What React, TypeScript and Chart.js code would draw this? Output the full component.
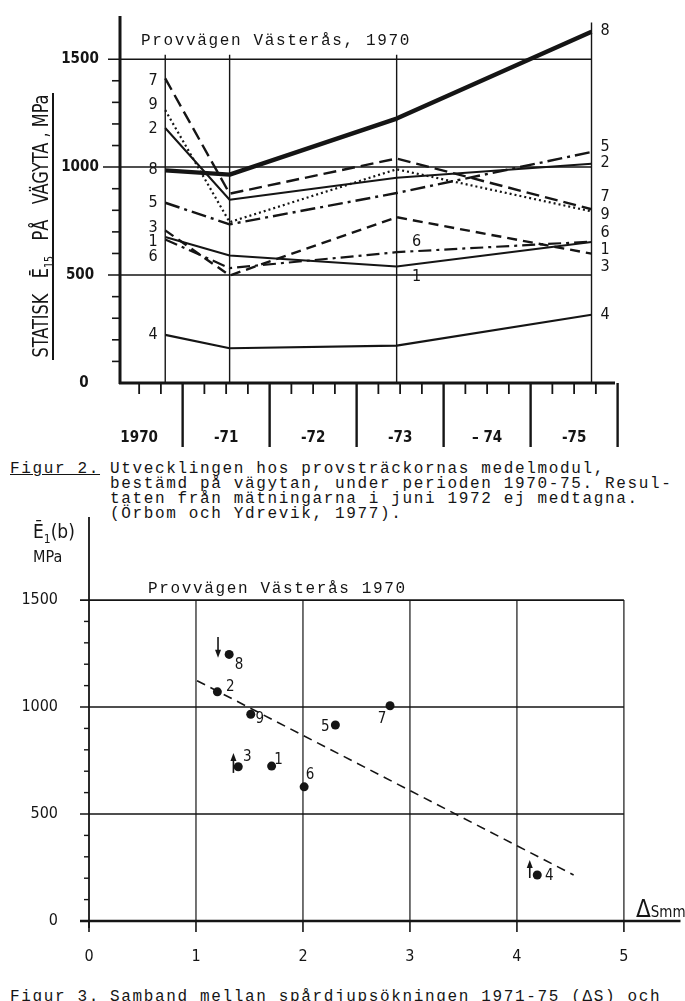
import React, { useEffect, useRef } from "react";
import { Chart, registerables } from "chart.js";
Chart.register(...registerables);

const COND = '"DejaVu Sans Condensed", "Liberation Sans Narrow", "DejaVu Sans", sans-serif';
const MONO = '"Liberation Mono", "DejaVu Sans Mono", "Courier New", monospace';
const INK = "#151515";

// ---------- Figur 2 data ----------
const years = [1970.8, 1971.54, 1973.46, 1975.7];
const s1 = [676, 591, 540, 653];
const s2 = [1181, 849, 951, 1016];
const s3 = [707, 498, 768, 599];
const s4 = [223, 161, 173, 316];
const s5 = [835, 735, 880, 1070];
const s6 = [665, 532, 606, 655];
const s7 = [1411, 877, 1040, 805];
const s8 = [985, 965, 1225, 1627];
const s9 = [1264, 745, 990, 795];

const yearLabels = ["1970", "-71", "-72", "-73", "\u2013 74", "-75"];
const yearStarts = [1970, 1971, 1972, 1973, 1974, 1975];
const y1TickValues = [0, 500, 1000, 1500];
const y1TickLabels = ["0", "500", "1000", "1500"];

const leftLabelText = ["7", "9", "2", "8", "5", "3", "1", "6", "4"];
const leftLabelValue = [1398, 1287, 1175, 989, 836, 720, 655, 585, 223];
const rightLabelText = ["8", "5", "2", "7", "9", "6", "1", "3", "4"];
const rightLabelValue = [1630, 1096, 1022, 864, 780, 697, 618, 539, 316];
const midLabelText = ["6", "1"];
const midLabelValue = [655, 492];

// ---------- Figur 3 data ----------
const sections = ["1", "2", "3", "4", "5", "6", "7", "8", "9"];
const rutDepth = [1.707, 1.2, 1.395, 4.19, 2.303, 2.011, 2.814, 1.31, 1.512];
const modulus = [724, 1071, 721, 215, 916, 627, 1006, 1246, 966];
const labelDx = [7, 13, 9, 12, -10, 6, -8, 10, 9];
const labelDy = [-6, -5, -10, 1, 2, -12, 13, 11, 5];
const trendX = [1.01, 4.53];
const trendY = [1123, 215];
const arrowX = [1.206, 1.35, 4.12];
const arrowFrom = [1327, 692, 201];
const arrowTo = [1230, 785, 285];
const x2TickValues = [0, 1, 2, 3, 4, 5];
const x2TickLabels = ["0", "1", "2", "3", "4", "5"];
const y2TickValues = [0, 500, 1000, 1500];
const y2TickLabels = ["0", "500", "1000", "1500"];

function line(ctx: CanvasRenderingContext2D, x1: number, y1: number, x2: number, y2: number, w: number) {
  ctx.beginPath();
  ctx.lineWidth = w;
  ctx.moveTo(x1, y1);
  ctx.lineTo(x2, y2);
  ctx.stroke();
}

const fig2Plugin = {
  id: "fig2",
  beforeDatasetsDraw(chart: any) {
    const ctx: CanvasRenderingContext2D = chart.ctx;
    const xs = chart.scales.x;
    const ys = chart.scales.y;
    const { left, right, top, bottom } = chart.chartArea;
    ctx.save();
    ctx.strokeStyle = INK;
    ctx.fillStyle = INK;
    ctx.lineCap = "butt";
    const xEnd = xs.getPixelForValue(years[3]);
    [1500, 1000, 500].forEach((v) => {
      line(ctx, left - (v === 1000 ? 17 : 12), ys.getPixelForValue(v), xEnd, ys.getPixelForValue(v), 1.5);
    });
    years.forEach((t, i) => {
      const x = xs.getPixelForValue(t);
      line(ctx, x, ys.getPixelForValue(i === 3 ? 1670 : 1520), x, bottom, 1.4);
    });
    for (let v = 100; v < 1500; v += 100) {
      if (v % 500 === 0) continue;
      const y = ys.getPixelForValue(v);
      line(ctx, left - 8, y, left, y, 1.6);
    }
    line(ctx, left, top, left, bottom + 1, 3);
    line(ctx, left - 1, bottom, right, bottom, 3);
    for (let t = 1970.5; t <= 1975.76; t += 0.25) {
      const x = xs.getPixelForValue(t);
      if (Math.abs(t - Math.round(t)) < 0.01) continue;
      line(ctx, x, bottom, x, bottom + 11, 1.8);
    }
    yearStarts.forEach((t) => {
      const x = xs.getPixelForValue(t + 1);
      line(ctx, x, bottom, x, bottom + 64, 2.4);
    });
    ctx.font = `bold 15px ${COND}`;
    ctx.textAlign = "center";
    ctx.textBaseline = "middle";
    yearLabels.forEach((l, i) => ctx.fillText(l, xs.getPixelForValue(yearStarts[i] + 0.5), bottom + 55));
    y1TickValues.forEach((v, i) => ctx.fillText(y1TickLabels[i], v === 0 ? 84 : 80, ys.getPixelForValue(v)));
    // rotated axis title
    ctx.save();
    ctx.translate(40, 226);
    ctx.rotate(-Math.PI / 2);
    const parts: any[] = [
      { t: "STATISK   \u0112", f: `22px ${COND}`, dy: 0 },
      { t: "15", f: `13px ${COND}`, dy: 5 },
      { t: "   P\u00c5   V\u00c4GYTA , MPa", f: `22px ${COND}`, dy: 0 },
    ];
    let total = 0;
    parts.forEach((p) => {
      ctx.font = p.f;
      p.w = ctx.measureText(p.t).width;
      total += p.w;
    });
    ctx.scale(263 / total, 1);
    let x = -total / 2;
    ctx.textAlign = "left";
    ctx.textBaseline = "alphabetic";
    parts.forEach((p) => {
      ctx.font = p.f;
      ctx.fillText(p.t, x, 8 + p.dy);
      x += p.w;
    });
    ctx.restore();
    line(ctx, 53, 93, 53, 360, 2);
    ctx.restore();
  },
  afterDatasetsDraw(chart: any) {
    const ctx: CanvasRenderingContext2D = chart.ctx;
    const xs = chart.scales.x;
    const ys = chart.scales.y;
    ctx.save();
    ctx.fillStyle = INK;
    ctx.font = `16px ${COND}`;
    ctx.textAlign = "center";
    ctx.textBaseline = "middle";
    const xl = xs.getPixelForValue(1970.66);
    leftLabelText.forEach((l, i) => ctx.fillText(l, xl, ys.getPixelForValue(leftLabelValue[i])));
    const xr = xs.getPixelForValue(1975.855);
    rightLabelText.forEach((l, i) => ctx.fillText(l, xr, ys.getPixelForValue(rightLabelValue[i])));
    const xm = xs.getPixelForValue(1973.69);
    midLabelText.forEach((l, i) => ctx.fillText(l, xm, ys.getPixelForValue(midLabelValue[i])));
    ctx.restore();
  },
};

function Figure2() {
  const ref = useRef<HTMLCanvasElement>(null);
  useEffect(() => {
    const mk = (label: string, data: number[], width: number, dash: number[]) => ({
      label,
      data: years.map((x, i) => ({ x, y: data[i] })),
      borderColor: INK,
      backgroundColor: INK,
      borderWidth: width,
      borderDash: dash,
      pointRadius: 0,
      tension: 0,
      fill: false,
      clip: false as any,
      borderJoinStyle: "round" as const,
    });
    const chart = new Chart(ref.current as HTMLCanvasElement, {
      type: "line",
      data: {
        datasets: [
          mk("4", s4, 2.2, []),
          mk("1", s1, 2, []),
          mk("6", s6, 2.2, [13, 5, 3, 5]),
          mk("3", s3, 2.4, [10, 6]),
          mk("5", s5, 2.4, [15, 5, 3, 5]),
          mk("2", s2, 2, []),
          mk("9", s9, 2.2, [2, 3]),
          mk("7", s7, 2.4, [13, 6]),
          mk("8", s8, 4.4, []),
        ],
      },
      options: {
        animation: false,
        responsive: false,
        devicePixelRatio: 1,
        events: [],
        layout: { padding: { left: 120, right: 70, top: 16, bottom: 77 } },
        plugins: { legend: { display: false }, tooltip: { enabled: false } },
        scales: {
          x: { type: "linear", min: 1970.28, max: 1975.97, display: false },
          y: { type: "linear", min: 0, max: 1700, display: false },
        },
      },
      plugins: [fig2Plugin],
    });
    return () => chart.destroy();
  }, []);
  return (
    <canvas
      ref={ref}
      width={685}
      height={460}
      style={{ position: "absolute", left: 0, top: 0, width: 685, height: 460 }}
    />
  );
}

const fig3Plugin = {
  id: "fig3",
  beforeDatasetsDraw(chart: any) {
    const ctx: CanvasRenderingContext2D = chart.ctx;
    const xs = chart.scales.x;
    const ys = chart.scales.y;
    const { left, right, top, bottom } = chart.chartArea;
    ctx.save();
    ctx.strokeStyle = INK;
    ctx.fillStyle = INK;
    const x5 = xs.getPixelForValue(5);
    [1500, 1000, 500].forEach((v) => {
      line(ctx, left - 9, ys.getPixelForValue(v), x5, ys.getPixelForValue(v), v === 1500 ? 1.8 : 1.4);
    });
    x2TickValues.forEach((v) => {
      const x = xs.getPixelForValue(v);
      if (v > 0) line(ctx, x, ys.getPixelForValue(1500), x, bottom, 1.2);
      line(ctx, x, bottom, x, bottom + 11, 1.6);
    });
    for (let v = 100; v < 1500; v += 100) {
      if (v % 500 === 0) continue;
      const y = ys.getPixelForValue(v);
      line(ctx, left - 5, y, left, y, 1.4);
    }
    line(ctx, left, top, left, bottom + 7, 1.8);
    line(ctx, left - 9, bottom, right, bottom, 2.6);
    ctx.font = `16px ${COND}`;
    ctx.textBaseline = "middle";
    ctx.textAlign = "right";
    y2TickValues.forEach((v, i) => ctx.fillText(y2TickLabels[i], 58, ys.getPixelForValue(v)));
    ctx.textAlign = "center";
    x2TickValues.forEach((v, i) => ctx.fillText(x2TickLabels[i], xs.getPixelForValue(v), bottom + 36));
    ctx.restore();
  },
  afterDatasetsDraw(chart: any) {
    const ctx: CanvasRenderingContext2D = chart.ctx;
    const xs = chart.scales.x;
    const ys = chart.scales.y;
    ctx.save();
    ctx.strokeStyle = INK;
    ctx.fillStyle = INK;
    ctx.font = `15px ${COND}`;
    ctx.textAlign = "center";
    ctx.textBaseline = "middle";
    sections.forEach((s, i) => {
      ctx.fillText(s, xs.getPixelForValue(rutDepth[i]) + labelDx[i], ys.getPixelForValue(modulus[i]) + labelDy[i]);
    });
    arrowX.forEach((ax, i) => {
      const x = xs.getPixelForValue(ax);
      const y1 = ys.getPixelForValue(arrowFrom[i]);
      const y2 = ys.getPixelForValue(arrowTo[i]);
      const dir = y2 > y1 ? 1 : -1;
      line(ctx, x, y1, x, y2 - dir * 4, 1.6);
      ctx.beginPath();
      ctx.moveTo(x, y2);
      ctx.lineTo(x - 3, y2 - dir * 8);
      ctx.lineTo(x + 3, y2 - dir * 8);
      ctx.closePath();
      ctx.fill();
    });
    ctx.restore();
  },
};

function Figure3() {
  const ref = useRef<HTMLCanvasElement>(null);
  useEffect(() => {
    const chart = new Chart(ref.current as HTMLCanvasElement, {
      type: "scatter",
      data: {
        datasets: [
          {
            type: "line",
            label: "trend",
            data: trendX.map((x, i) => ({ x, y: trendY[i] })),
            borderColor: INK,
            borderWidth: 1.6,
            borderDash: [9, 6],
            pointRadius: 0,
            fill: false,
          } as any,
          {
            type: "scatter",
            label: "sträckor",
            data: rutDepth.map((x, i) => ({ x, y: modulus[i] })),
            backgroundColor: INK,
            borderColor: INK,
            pointRadius: 4.5,
            borderWidth: 0,
          },
        ],
      },
      options: {
        animation: false,
        responsive: false,
        devicePixelRatio: 1,
        events: [],
        layout: { padding: { left: 89, right: 0, top: 37, bottom: 59 } },
        plugins: { legend: { display: false }, tooltip: { enabled: false } },
        scales: {
          x: { type: "linear", min: 0, max: 5.529, display: false },
          y: { type: "linear", min: 0, max: 1888, display: false },
        },
      },
      plugins: [fig3Plugin],
    });
    return () => chart.destroy();
  }, []);
  return (
    <canvas
      ref={ref}
      width={685}
      height={500}
      style={{ position: "absolute", left: 0, top: 480, width: 685, height: 500 }}
    />
  );
}

const monoStyle: React.CSSProperties = {
  position: "absolute",
  fontFamily: MONO,
  fontSize: "16px",
  letterSpacing: "1.65px",
  lineHeight: "15px",
  color: INK,
  whiteSpace: "pre",
  margin: 0,
};

export default function App() {
  return (
    <div
      style={{
        position: "absolute",
        left: 0,
        top: 0,
        width: 685,
        height: 1001,
        overflow: "hidden",
        background: "#fff",
      }}
    >
      <Figure2 />
      <div style={{ ...monoStyle, left: 141, top: 34 }}>Provvägen Västerås, 1970</div>
      <div style={{ ...monoStyle, left: 10, top: 462 }}>
        <span style={{ textDecoration: "underline" }}>Figur 2.</span>
      </div>
      <div style={{ ...monoStyle, left: 110, top: 462 }}>
        {"Utvecklingen hos provsträckornas medelmodul,\nbestämd på vägytan, under perioden 1970-75. Resul-\ntaten från mätningarna i juni 1972 ej medtagna.\n(Örbom och Ydrevik, 1977)."}
      </div>
      <Figure3 />
      <div style={{ ...monoStyle, left: 148, top: 582 }}>Provvägen Västerås 1970</div>
      <div
        style={{
          position: "absolute",
          left: 33,
          top: 520,
          fontFamily: COND,
          fontSize: "19px",
          lineHeight: "22px",
          color: INK,
          whiteSpace: "pre",
        }}
      >
        {"\u0112"}
        <span style={{ fontSize: "12px", position: "relative", top: 5 }}>1</span>
        {"(b)"}
      </div>
      <div
        style={{
          position: "absolute",
          left: 33,
          top: 548,
          fontFamily: COND,
          fontSize: "16px",
          lineHeight: "18px",
          color: INK,
        }}
      >
        MPa
      </div>
      <div
        style={{
          position: "absolute",
          left: 636,
          top: 898,
          fontFamily: COND,
          color: INK,
          whiteSpace: "pre",
          lineHeight: "22px",
        }}
      >
        <span style={{ fontSize: "24px" }}>{"\u0394"}</span>
        <span style={{ fontSize: "15px" }}>Smm</span>
      </div>
      <div style={{ ...monoStyle, left: 10, top: 990 }}>Figur 3.</div>
      <div style={{ ...monoStyle, left: 110, top: 990 }}>
        {"Samband mellan spårdjupsökningen 1971-75 (\u0394S) och"}
      </div>
    </div>
  );
}
